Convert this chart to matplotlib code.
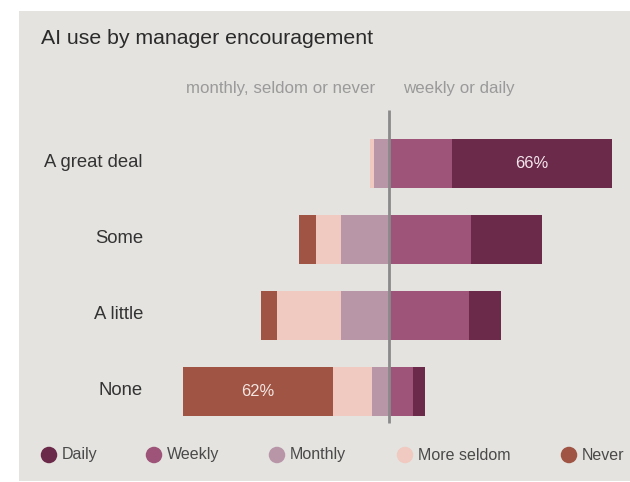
import matplotlib
matplotlib.use("Agg")
import matplotlib.pyplot as plt
from matplotlib.patches import Rectangle, Ellipse
import numpy as np

plt.rcParams['font.family'] = ['Liberation Sans', 'DejaVu Sans']

categories = ["A great deal", "Some", "A little", "None"]
# shares in percent per response
daily = [66, 29, 13, 5]
weekly = [26, 34, 33, 10]
monthly = [6, 20, 20, 7]
more_seldom = [2, 10, 26, 16]
never = [0, 7, 7, 62]

series_names = ["Daily", "Weekly", "Monthly", "More seldom", "Never"]
colors = {"Daily": "#6B2A4A", "Weekly": "#9E5478", "Monthly": "#B896A8",
          "More seldom": "#F0C9C0", "Never": "#A05444"}
bg = "#E4E3DF"

W, H = 630, 482
fig = plt.figure(figsize=(W / 100, H / 100), dpi=100)
fig.patch.set_facecolor("white")

# panel background
bg_ax = fig.add_axes([0, 0, 1, 1])
bg_ax.set_zorder(0)
bg_ax.axis("off")
bg_ax.add_patch(Rectangle((19 / W, 1 / H), 1 - 19 / W, 470 / H,
                          transform=fig.transFigure, facecolor=bg,
                          edgecolor="none"))

ax = fig.add_axes([0, 0, 1, 1])
ax.set_zorder(1)
ax.set_facecolor("none")
px_per_pct = 2.424
cx = 389
ax.set_xlim(-cx / px_per_pct, (W - cx) / px_per_pct)
row_gap = 76.0
y0 = 163.5
ax.set_ylim((H - y0) / row_gap, -y0 / row_gap)
ax.axis("off")

y = np.arange(len(categories))
bh = 49 / row_gap

# right side: weekly then daily
ax.barh(y, weekly, left=0, height=bh, color=colors["Weekly"], zorder=2)
ax.barh(y, daily, left=weekly, height=bh, color=colors["Daily"], zorder=2)
# left side: monthly, more seldom, never going outwards
m = np.array(monthly)
s = np.array(more_seldom)
n = np.array(never)
ax.barh(y, -m, left=0, height=bh, color=colors["Monthly"], zorder=2)
ax.barh(y, -s, left=-m, height=bh, color=colors["More seldom"], zorder=2)
ax.barh(y, -n, left=-(m + s), height=bh, color=colors["Never"], zorder=2)

# value labels on the dominant segments
ax.text(weekly[0] + daily[0] / 2, 0, f"{daily[0]}%", ha="center", va="center",
        color="#F3E6EC", fontsize=11.9, zorder=3)
ax.text(-(m[3] + s[3] + n[3] / 2), 3, f"{never[3]}%", ha="center", va="center",
        color="#F3E6E2", fontsize=11.9, zorder=3)

# centre divider
ax.plot([0, 0], [(110 - y0) / row_gap, (423 - y0) / row_gap],
        color="#8A8A8A", lw=2, zorder=4, solid_capstyle="butt")

# category labels
for i, c in enumerate(categories):
    ax.text(143 / W, 1 - (y0 - 1 + i * row_gap) / H, c, transform=fig.transFigure,
            ha="right", va="center", fontsize=13.3, color="#333333")

# title and side captions
ax.text(41 / W, 1 - 38 / H, "AI use by manager encouragement", ha="left",
        va="center", fontsize=15.3, color="#2b2b2b", transform=fig.transFigure)
ax.text(375 / W, 1 - 89 / H, "monthly, seldom or never", ha="right",
        va="center", fontsize=12.2, color="#9a9a9a", transform=fig.transFigure)
ax.text(403 / W, 1 - 89 / H, "weekly or daily", ha="left",
        va="center", fontsize=12.2, color="#9a9a9a", transform=fig.transFigure)

# legend row
leg_circles = [49, 154, 277, 405, 569]
leg_y = 455
for name, xc in zip(series_names, leg_circles):
    ax.add_patch(Ellipse((xc / W, 1 - leg_y / H), 16.5 / W, 16.5 / H,
                         transform=fig.transFigure, facecolor=colors[name],
                         edgecolor="none", zorder=3, clip_on=False))
    ax.text((xc + 13) / W, 1 - leg_y / H, name, ha="left", va="center",
            fontsize=11.5, color="#4a4a4a", transform=fig.transFigure)

fig.savefig("out.png", dpi=100, facecolor=fig.get_facecolor())
